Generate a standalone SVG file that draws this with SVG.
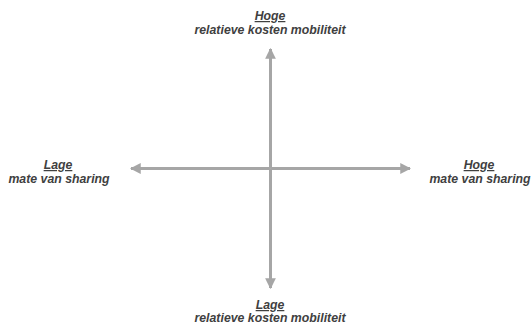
<svg xmlns="http://www.w3.org/2000/svg" width="531" height="326" viewBox="0 0 531 326">
<style>
.lbl{font-family:"Liberation Sans",Arial,sans-serif;font-size:12.3px;font-weight:bold;font-style:italic;fill:#404040;text-anchor:middle}
.u{text-decoration:underline}
.ax{stroke:#a6a6a6;stroke-width:3;fill:none}
</style>
<defs>
<marker id="ah" viewBox="0 0 10 10" refX="9" refY="5" markerWidth="3.6" markerHeight="3.6" orient="auto" markerUnits="strokeWidth">
<path d="M0,0 L10,5 L0,10 Z" fill="#a6a6a6"/>
</marker>
</defs>
<rect width="531" height="326" fill="#ffffff"/>
<g id="connectors">
<line class="ax" x1="270.5" y1="168.5" x2="270.5" y2="49" marker-end="url(#ah)"/>
<line class="ax" x1="270.5" y1="168.5" x2="270.5" y2="288" marker-end="url(#ah)"/>
<line class="ax" x1="270.5" y1="168.5" x2="131" y2="168.5" marker-end="url(#ah)"/>
<line class="ax" x1="270.5" y1="168.5" x2="410" y2="168.5" marker-end="url(#ah)"/>
</g>
<g id="top">
<text class="lbl" x="270" y="20"><tspan class="u">Hoge</tspan></text>
<text class="lbl" x="270" y="34">relatieve kosten mobiliteit</text>
</g>
<g id="bottom">
<text class="lbl" x="270" y="309"><tspan class="u">Lage</tspan></text>
<text class="lbl" x="270" y="322">relatieve kosten mobiliteit</text>
</g>
<g id="left">
<text class="lbl" x="58" y="169"><tspan class="u">Lage</tspan></text>
<text class="lbl" x="59" y="183">mate van sharing</text>
</g>
<g id="right">
<text class="lbl" x="479" y="169"><tspan class="u">Hoge</tspan></text>
<text class="lbl" x="480" y="183">mate van sharing</text>
</g>
</svg>
